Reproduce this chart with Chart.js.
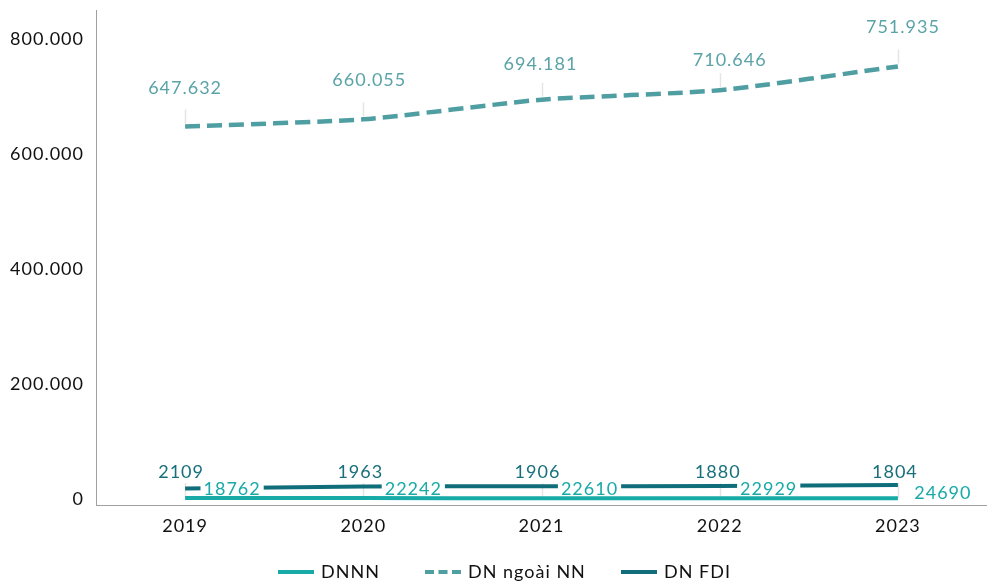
<!DOCTYPE html>
<html>
<head>
<meta charset="utf-8">
<script src="https://cdn.jsdelivr.net/npm/chart.js@4/dist/chart.umd.min.js"></script>
<style>
  html, body { margin: 0; padding: 0; background: #fff; }
  #wrap { width: 987px; height: 583px; }
</style>
</head>
<body>
<div id="wrap"><canvas id="c" width="987" height="583"></canvas></div>
<script>
// Số lượng doanh nghiệp theo loại hình, 2019–2023
const years     = ['2019', '2020', '2021', '2022', '2023'];
const dnnn      = [2109, 1963, 1906, 1880, 1804];
const dnNgoaiNN = [647632, 660055, 694181, 710646, 751935];
const dnFDI     = [18762, 22242, 22610, 22929, 24690];
const yTicks    = [0, 200000, 400000, 600000, 800000];

const FONT = 'Lato';
const C_DNNN = '#17aaa7';
const C_NGOAI = '#4f9ea2';
const C_FDI = '#0f6e7a';

const dotted = v => String(v).replace(/\B(?=(\d{3})+(?!\d))/g, '.');
const plain = v => String(v);

// label placement relative to each point (pixels)
const labelStyles = [
  { color: '#17707c', format: plain, dx: [-4, -3, -4, -2, -3], dy: [-26, -26, -26, -26, -26], leader: [0, 15] },
  { color: '#5aa3a7', format: dotted, dx: [0, 6, -1, 10, 5], dy: [-38, -39, -35, -30, -39], leader: [3, 17] },
  { color: '#19aaa7', format: plain, dx: [47, 50, 48, 49, 45], dy: [1, 3, 3, 3, 8], bg: '#ffffff' }
];

// legend item left edges (pixels)
const legendX = [278, 425, 621];

// wider letter spacing for all canvas text
const spacingPlugin = {
  id: 'spacing',
  beforeInit(chart) { chart.ctx.letterSpacing = '1px'; },
  beforeDraw(chart) { chart.ctx.letterSpacing = '1px'; }
};

const leaderPlugin = {
  id: 'leaders',
  beforeDatasetsDraw(chart) {
    const ctx = chart.ctx;
    ctx.save();
    ctx.strokeStyle = '#e4e4e4';
    ctx.lineWidth = 1.5;
    chart.data.datasets.forEach((ds, di) => {
      const st = labelStyles[di];
      if (!st.leader) return;
      chart.getDatasetMeta(di).data.forEach(pt => {
        ctx.beginPath();
        ctx.moveTo(Math.round(pt.x) + 0.5, pt.y - st.leader[0]);
        ctx.lineTo(Math.round(pt.x) + 0.5, pt.y - st.leader[1]);
        ctx.stroke();
      });
    });
    ctx.restore();
  }
};

const valueLabelPlugin = {
  id: 'valueLabels',
  afterDatasetsDraw(chart) {
    const ctx = chart.ctx;
    ctx.save();
    ctx.letterSpacing = '1px';
    ctx.font = '18px ' + FONT;
    ctx.textAlign = 'center';
    ctx.textBaseline = 'middle';
    chart.data.datasets.forEach((ds, di) => {
      const st = labelStyles[di];
      chart.getDatasetMeta(di).data.forEach((pt, i) => {
        const text = st.format(ds.data[i]);
        const x = pt.x + st.dx[i];
        const y = pt.y + st.dy[i];
        if (st.bg) {
          const w = ctx.measureText(text).width + 6;
          ctx.fillStyle = st.bg;
          ctx.fillRect(x - w / 2, y - 7, w, 13);
        }
        ctx.fillStyle = st.color;
        ctx.fillText(text, x, y);
      });
    });
    ctx.restore();
  }
};

const legendPlugin = {
  id: 'lineLegend',
  afterDraw(chart) {
    const ctx = chart.ctx;
    const sw = 36, gapText = 7, y = 572;
    ctx.save();
    ctx.letterSpacing = '1px';
    ctx.font = '18px ' + FONT;
    ctx.textBaseline = 'middle';
    chart.data.datasets.forEach((ds, i) => {
      const x = legendX[i];
      ctx.strokeStyle = ds.borderColor;
      ctx.lineWidth = 4;
      ctx.setLineDash(ds.borderDash ? [9, 4.5] : []);
      ctx.beginPath();
      ctx.moveTo(x, y);
      ctx.lineTo(x + sw, y);
      ctx.stroke();
      ctx.setLineDash([]);
      ctx.fillStyle = '#111';
      ctx.fillText(ds.label, x + sw + gapText, y);
    });
    ctx.restore();
  }
};

new Chart(document.getElementById('c'), {
  type: 'line',
  data: {
    labels: years,
    datasets: [
      { label: 'DNNN', data: dnnn, borderColor: C_DNNN, borderWidth: 4, tension: 0.2 },
      { label: 'DN ngoài NN', data: dnNgoaiNN, borderColor: C_NGOAI, borderWidth: 4.5, borderDash: [15, 7], tension: 0.2 },
      { label: 'DN FDI', data: dnFDI, borderColor: C_FDI, borderWidth: 4, tension: 0.2 }
    ]
  },
  options: {
    responsive: false,
    animation: false,
    events: [],
    layout: { padding: { top: 10, right: 0, bottom: 38, left: 0 } },
    elements: { point: { radius: 0 }, line: { borderCapStyle: 'butt', fill: false } },
    plugins: { legend: { display: false }, tooltip: { enabled: false } },
    scales: {
      x: {
        offset: true,
        grid: { display: false, drawTicks: false },
        border: { display: true, color: '#a0a0a0', width: 1 },
        ticks: { color: '#111', font: { family: FONT, size: 18 }, padding: 10 },
        afterFit: s => { s.height = 40; s.paddingLeft = 0; s.paddingRight = 0; }
      },
      y: {
        min: -10000,
        max: 850000,
        afterBuildTicks: axis => { axis.ticks = yTicks.map(v => ({ value: v })); },
        grid: { display: false, drawTicks: false },
        border: { display: true, color: '#a0a0a0', width: 1 },
        ticks: { color: '#111', font: { family: FONT, size: 18 }, padding: 12, callback: v => dotted(v) },
        afterFit: s => { s.width = 96; s.paddingTop = 0; s.paddingBottom = 0; }
      }
    }
  },
  plugins: [spacingPlugin, leaderPlugin, valueLabelPlugin, legendPlugin]
});
</script>
</body>
</html>
